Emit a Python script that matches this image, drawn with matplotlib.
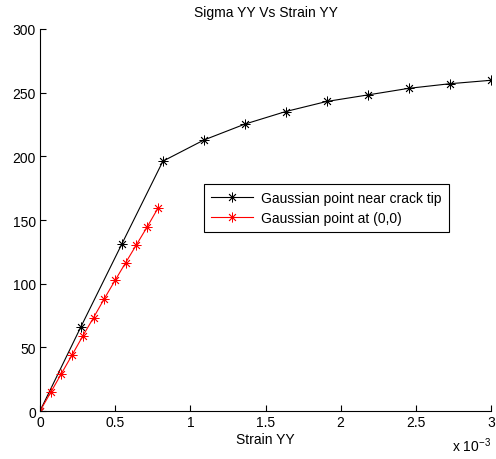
import numpy as np
import matplotlib
matplotlib.use("Agg")
import matplotlib.pyplot as plt

plt.rcParams['font.family'] = ['Liberation Sans', 'DejaVu Sans']
plt.rcParams['mathtext.fontset'] = 'custom'
plt.rcParams['mathtext.rm'] = 'Liberation Sans'
plt.rcParams['mathtext.it'] = 'Liberation Sans'

# data (strain in units of 1e-3, stress)
crack_strain = [0, 0.2725, 0.545, 0.8175, 1.09, 1.3625, 1.635, 1.9075, 2.18, 2.4525, 2.725, 2.9975]
crack_sigma = [0, 66.2, 131.3, 196.2, 212.8, 225.3, 235.2, 243.1, 248.2, 253.4, 257.0, 259.7]

origin_strain = [0, 0.0713, 0.1426, 0.2139, 0.2852, 0.3565, 0.4278, 0.4991, 0.5704, 0.6417, 0.713, 0.7843]
origin_sigma = [0, 14.6, 29.4, 44.1, 59.0, 73.4, 88.2, 102.5, 116.6, 130.6, 144.6, 159.2]

xtick_vals = [0, 0.5, 1, 1.5, 2, 2.5, 3]
xtick_labels = ['0', '0.5', '1', '1.5', '2', '2.5', '3']
ytick_vals = [0, 50, 100, 150, 200, 250, 300]

fig = plt.figure(figsize=(4.96, 4.6), dpi=100)
ax = fig.add_axes([0.0806, 0.1043, 0.9094, 0.8305])

star = (8, 2, 0)
ax.plot(np.array(crack_strain) * 1e-3, crack_sigma, color='black', lw=0.8,
        marker=star, markersize=7, markeredgewidth=0.6,
        label='Gaussian point near crack tip')
ax.plot(np.array(origin_strain) * 1e-3, origin_sigma, color='red', lw=0.8,
        marker=star, markersize=7, markeredgewidth=0.6,
        label='Gaussian point at (0,0)')

ax.set_xlim(0, 3e-3)
ax.set_ylim(0, 300)
ax.set_xticks(np.array(xtick_vals) * 1e-3)
ax.set_xticklabels(xtick_labels)
ax.set_yticks(ytick_vals)
ax.tick_params(direction='in', length=4, width=0.8, labelsize=10, pad=3)
ax.spines['top'].set_visible(False)
ax.spines['right'].set_visible(False)
ax.spines['left'].set_linewidth(0.8)
ax.spines['bottom'].set_linewidth(0.8)

ax.set_title('Sigma YY Vs Strain YY', fontsize=10, pad=9)
ax.set_xlabel('Strain YY', fontsize=10, labelpad=2)
ax.text(1.0, -0.105, r'x 10$^{-3}$', transform=ax.transAxes, ha='right', va='baseline', fontsize=10)

leg = ax.legend(loc='upper left', bbox_to_anchor=(0.364, 0.594), borderaxespad=0,
                fancybox=False, framealpha=1, edgecolor='black', fontsize=10,
                handlelength=3.0, handletextpad=0.6, borderpad=0.5, labelspacing=0.45)
leg.get_frame().set_linewidth(0.8)

fig.savefig('out.png', dpi=100)
